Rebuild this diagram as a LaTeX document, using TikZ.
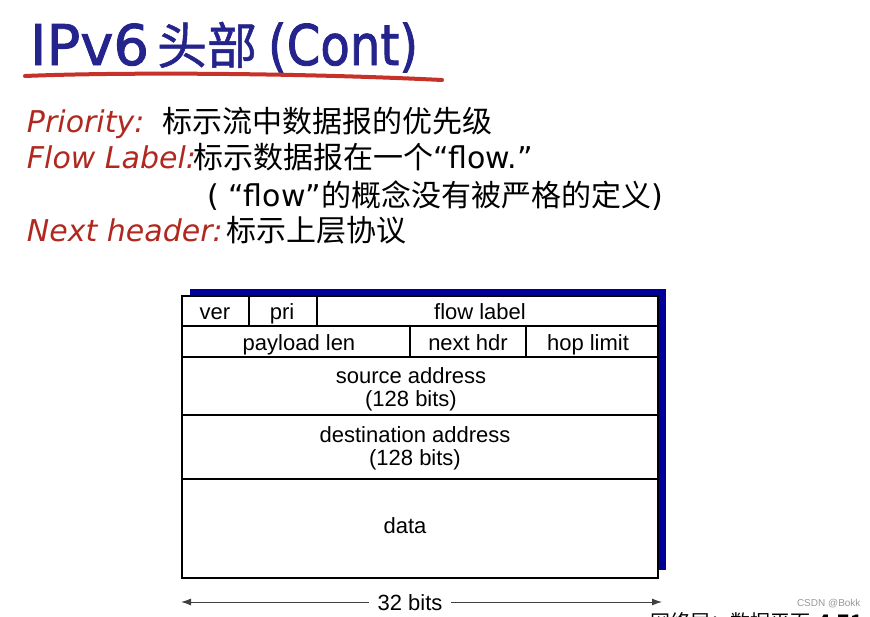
\documentclass[tikz,border=0pt]{standalone}
\usepackage{fontspec}
\setmainfont{Liberation Sans}
\newfontfamily\cjk{Noto Sans CJK SC}
\newfontfamily\comic{DejaVu Sans}
\newfontfamily\ttlfont[FakeBold=1.6]{DejaVu Sans}
\newfontfamily\ttlcjk[FakeBold=1.0]{Noto Sans CJK SC}
\usetikzlibrary{arrows.meta}
\definecolor{titleblue}{HTML}{24248C}
\definecolor{labelred}{HTML}{B0281F}
\definecolor{shadowblue}{HTML}{000099}
\definecolor{brushred}{HTML}{C6322A}
\begin{document}
\begin{tikzpicture}[x=1pt,y=-1pt,
  every node/.style={inner sep=0pt, outer sep=0pt},
  ttl/.style={font=\ttlfont\fontsize{56}{60}\selectfont, text=titleblue, anchor=base west},
  ttlzh/.style={font=\ttlcjk\fontsize{50}{56}\selectfont, text=titleblue, anchor=base west},
  lbl/.style={font=\comic\itshape\fontsize{30}{36}\selectfont, text=labelred, anchor=base west},
  zh/.style={font=\cjk\fontsize{30}{36}\selectfont, anchor=base west},
  cell/.style={font=\fontsize{22}{26}\selectfont, anchor=base},
  grid/.style={line width=1.3pt, draw=black},
  dim/.style={draw=black!75, line width=1pt, {Latex[length=10pt,width=7pt]}-{Latex[length=10pt,width=7pt]}}
]
\useasboundingbox (0,0) rectangle (870,616);
\fill[white] (0,0) rectangle (870,616);

% title
\node[ttl] (t1) at (30,65) {IPv6};
\node[ttlzh] (t2) at (157,64) {头部};
\node[ttl] (t3) at (268,65) {\scalebox{0.86}[1]{(Cont)}};
\draw[brushred, line width=4pt, line cap=round] (25,76) .. controls (120,72) and (300,73) .. (442,80);

% text lines
\node[lbl] (l1) at (27,132) {Priority:};
\node[zh] (z1) at (162,132) {标示流中数据报的优先级};
\node[lbl] (l2) at (27,168) {Flow Label:};
\node[zh] (z2) at (193,168) {标示数据报在一个{\comic “flow.”}};
\node[zh] (z3) at (207,206) {{\comic ( “flow”}的概念没有被严格的定义{\comic )}};
\node[lbl] (l3) at (27,241) {Next header:};
\node[zh] (z4) at (226,241) {标示上层协议};

% table
\fill[shadowblue] (190,289) rectangle (666,570);
\draw[grid, fill=white] (182,296) rectangle (658,578);
\draw[grid] (182,326) -- (658,326);
\draw[grid] (182,357) -- (658,357);
\draw[grid] (182,415) -- (658,415);
\draw[grid] (182,479) -- (658,479);
\draw[grid] (249,296) -- (249,326);
\draw[grid] (317,296) -- (317,326);
\draw[grid] (410,326) -- (410,357);
\draw[grid] (526,326) -- (526,357);

\node[cell] (ver) at (215,319) {ver};
\node[cell] (pri) at (282,319) {pri};
\node[cell] (flow) at (480,319) {flow label};
\node[cell] (plen) at (299,350) {payload len};
\node[cell] (nhdr) at (468,350) {next hdr};
\node[cell] (hop) at (588,350) {hop limit};
\node[cell] (src) at (411,383) {source address};
\node[cell] (srcb) at (411,406) {(128 bits)};
\node[cell] (dst) at (415,442) {destination address};
\node[cell] (dstb) at (415,465) {(128 bits)};
\node[cell] (data) at (405,533) {data};

% 32 bits
\coordinate (al) at (181,602);
\coordinate (ar) at (662,602);
\draw[dim] (al) -- (ar);
\node[cell, fill=white, inner xsep=9pt] (bits) at (410,610) {32 bits};

% footer
\node[font=\fontsize{10}{12}\selectfont, text=black!40, anchor=base west] (csdn) at (797,606) {CSDN @Bokk};
\node[font=\cjk\fontsize{20}{24}\selectfont, anchor=base west] (pg) at (650,629) {网络层：数据平面\hspace{8pt}{\bfseries 4-71}};
\end{tikzpicture}
\end{document}
